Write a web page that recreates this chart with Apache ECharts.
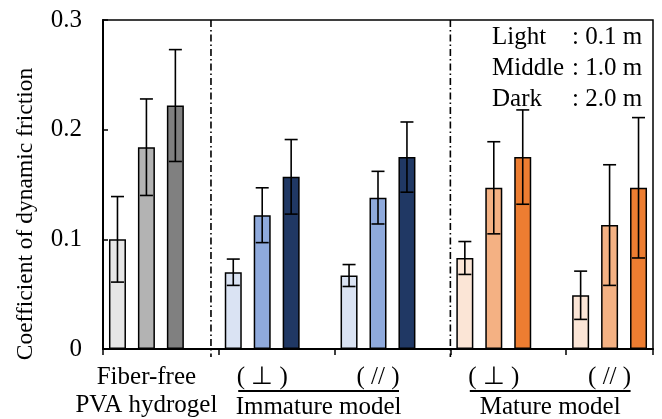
<!DOCTYPE html>
<html>
<head>
<meta charset="utf-8">
<script src="https://cdn.jsdelivr.net/npm/echarts@6/dist/echarts.min.js"></script>
<style>
html,body{margin:0;padding:0;background:#fff;}
#chart{width:662px;height:419px;}
</style>
</head>
<body>
<div id="chart"></div>
<script>
// ---- data ----
const groupLabels = ['Fiber-free\nPVA hydrogel', '( \u22A5 )', '( // )', '( \u22A5 )', '( // )'];
const modelLabels = ['Immature model', 'Mature model'];
const lightVals  = [0.100, 0.070, 0.067, 0.083, 0.049];
const middleVals = [0.184, 0.122, 0.138, 0.147, 0.113];
const darkVals   = [0.222, 0.157, 0.175, 0.175, 0.147];
const lightErr   = [0.039, 0.012, 0.010, 0.015, 0.022];
const middleErr  = [0.044, 0.025, 0.024, 0.042, 0.055];
const darkErr    = [0.051, 0.034, 0.032, 0.043, 0.064];
const yTicks = [0, 0.1, 0.2, 0.3];
const legendNames  = ['Light', 'Middle', 'Dark'];
const legendValues = [': 0.1 m', ': 1.0 m', ': 2.0 m'];

// ---- styles ----
const groupColors = [
  ['#e6e6e6', '#b3b3b3', '#808080'],
  ['#dae3f3', '#8faadc', '#203864'],
  ['#dae3f3', '#8faadc', '#203864'],
  ['#fbe5d6', '#f4b183', '#ed7d31'],
  ['#fbe5d6', '#f4b183', '#ed7d31']
];
const FONT = '"Liberation Serif", "Times New Roman", serif';
const FS = 25;
const SLOTS_PER_GROUP = 4;
const nSlots = SLOTS_PER_GROUP * (groupLabels.length - 1) + 3;

const slotCats = [];
for (let i = 0; i < nSlots; i++) {
  const g = Math.floor(i / SLOTS_PER_GROUP), s = i % SLOTS_PER_GROUP;
  slotCats.push(s === 1 ? groupLabels[g] : '');
}

const shadeVals = [lightVals, middleVals, darkVals];
const shadeErrs = [lightErr, middleErr, darkErr];

function barData(shade) {
  const arr = new Array(nSlots).fill('-');
  shadeVals[shade].forEach((v, g) => {
    arr[g * SLOTS_PER_GROUP + shade] = {
      value: v,
      itemStyle: { color: groupColors[g][shade] }
    };
  });
  return arr;
}
const errData = [];
shadeVals.forEach((vals, shade) => {
  vals.forEach((v, g) => {
    errData.push([g * SLOTS_PER_GROUP + shade, v - shadeErrs[shade][g], v + shadeErrs[shade][g]]);
  });
});

const chart = echarts.init(document.getElementById('chart'), null, { renderer: 'canvas' });

const barSeries = legendNames.map((name, shade) => ({
  name: name,
  type: 'bar',
  xAxisIndex: 0,
  data: barData(shade),
  barWidth: 17,
  barGap: '-100%',
  itemStyle: { borderColor: '#000', borderWidth: 1.5 },
  emphasis: { disabled: true },
  animation: false
}));

const option = {
  animation: false,
  grid: {
    left: 103, top: 20, width: 550, height: 329,
    show: true, borderColor: '#000', borderWidth: 1.5, backgroundColor: 'transparent'
  },
  xAxis: [
    {
      type: 'category',
      data: slotCats,
      boundaryGap: true,
      axisLine: { lineStyle: { color: '#000', width: 2 } },
      axisTick: {
        show: true, length: 6, inside: false,
        interval: function (i) { return i % SLOTS_PER_GROUP === 0; },
        lineStyle: { color: '#000', width: 1.5 }
      },
      axisLabel: {
        interval: 0, color: '#000', fontFamily: FONT, fontSize: FS,
        lineHeight: 28, margin: 14
      },
      splitLine: { show: false }
    },
    {
      type: 'value', min: 0, max: nSlots, show: false
    }
  ],
  yAxis: {
    type: 'value', min: 0, max: 0.3, interval: 0.1,
    axisLine: { show: true, lineStyle: { color: '#000', width: 2 } },
    axisTick: { show: true, inside: true, length: 5, lineStyle: { color: '#000', width: 1.5 } },
    axisLabel: {
      color: '#000', fontFamily: FONT, fontSize: FS, margin: 21,
      formatter: function (v) {
        const t = yTicks.find(x => Math.abs(x - v) < 1e-9);
        return t === 0 ? '0' : t.toFixed(1);
      }
    },
    splitLine: { show: false }
  },
  series: barSeries.concat([{
    type: 'custom',
    xAxisIndex: 0,
    data: errData,
    z: 10,
    renderItem: function (params, api) {
      const x = api.value(0);
      const lo = api.coord([x, api.value(1)]);
      const hi = api.coord([x, api.value(2)]);
      const cap = 6.5;
      const st = { stroke: '#000', lineWidth: 1.6 };
      return {
        type: 'group',
        children: [
          { type: 'line', shape: { x1: lo[0], y1: lo[1], x2: hi[0], y2: hi[1] }, style: st },
          { type: 'line', shape: { x1: lo[0] - cap, y1: lo[1], x2: lo[0] + cap, y2: lo[1] }, style: st },
          { type: 'line', shape: { x1: hi[0] - cap, y1: hi[1], x2: hi[0] + cap, y2: hi[1] }, style: st }
        ]
      };
    },
    animation: false
  }])
};
chart.setOption(option);

// ---- annotations positioned through the axes ----
const dividerSlots = [3.73, 12];
const yTop = chart.convertToPixel({ yAxisIndex: 0 }, 0.3);
const yZero = chart.convertToPixel({ yAxisIndex: 0 }, 0);
const graphics = [];
dividerSlots.forEach(s => {
  const px = chart.convertToPixel({ xAxisIndex: 1 }, s);
  graphics.push({
    type: 'line', z: 20,
    shape: { x1: px, y1: yTop, x2: px, y2: yZero + 8 },
    style: { stroke: '#000', lineWidth: 1.6, lineDash: [7, 3, 1.5, 3] }
  });
});
// model underlines and labels
[1, 3].forEach((g, k) => {
  const xa = chart.convertToPixel({ xAxisIndex: 0 }, g * SLOTS_PER_GROUP + 1);
  const xb = chart.convertToPixel({ xAxisIndex: 0 }, (g + 1) * SLOTS_PER_GROUP + 1);
  const l = xa - 24, r = xb + 21;
  graphics.push({
    type: 'line', shape: { x1: l, y1: 391, x2: r, y2: 391 },
    style: { stroke: '#000', lineWidth: 1.8 }
  });
  graphics.push({
    type: 'text', x: (l + r) / 2, y: 407,
    style: { text: modelLabels[k], font: FS + 'px ' + FONT, fill: '#000', align: 'center', verticalAlign: 'middle' }
  });
});
// y axis title
graphics.push({
  type: 'text', x: 26, y: 214, rotation: Math.PI / 2,
  style: { text: 'Coefficient of dynamic friction', font: '23.5px ' + FONT, fill: '#000', align: 'center', verticalAlign: 'middle' }
});
// legend text
legendNames.forEach((n, i) => {
  const y = 37 + i * 31;
  graphics.push({ type: 'text', x: 492, y: y,
    style: { text: n, font: FS + 'px ' + FONT, fill: '#000', align: 'left', verticalAlign: 'middle' } });
  graphics.push({ type: 'text', x: 572, y: y,
    style: { text: legendValues[i], font: FS + 'px ' + FONT, fill: '#000', align: 'left', verticalAlign: 'middle' } });
});
chart.setOption({ graphic: graphics });
</script>
</body>
</html>
